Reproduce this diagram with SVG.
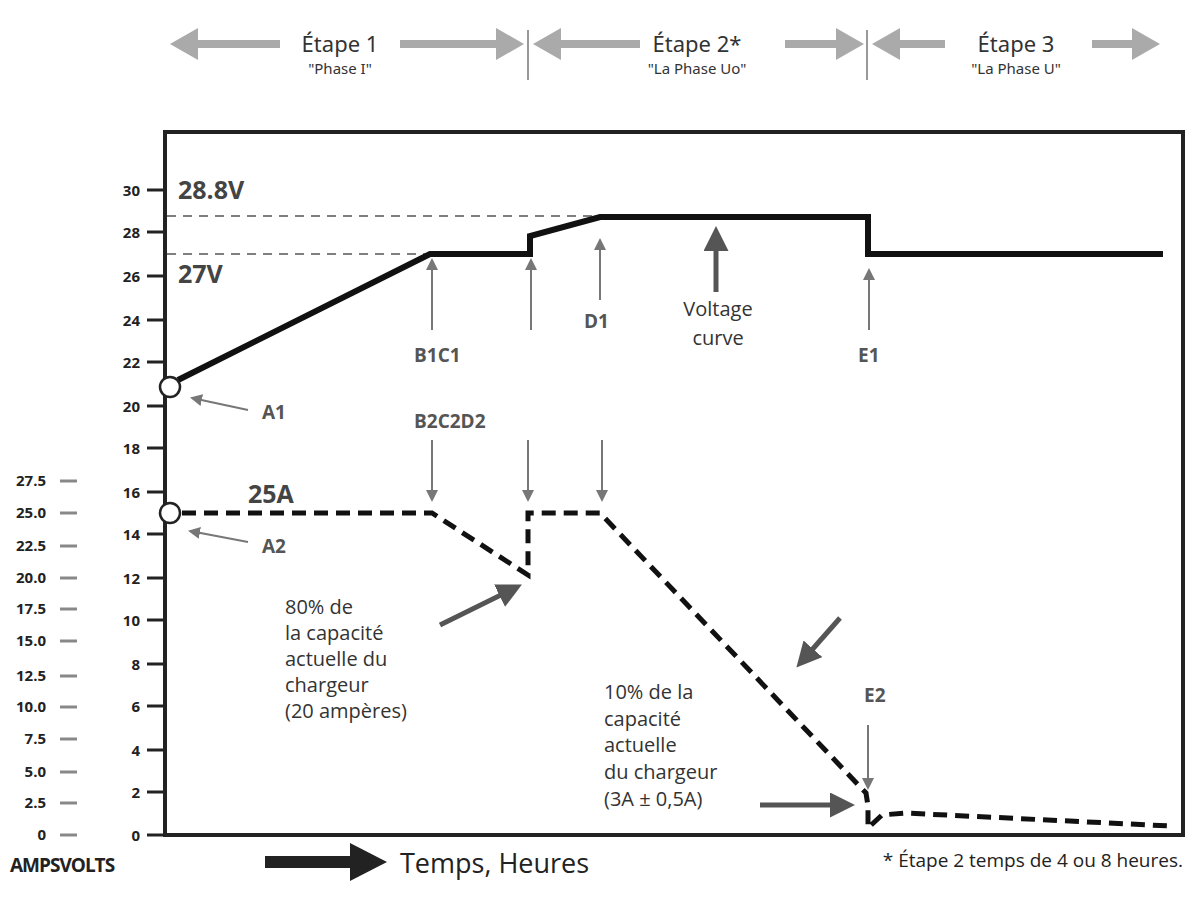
<svg xmlns="http://www.w3.org/2000/svg" width="1198" height="912" viewBox="0 0 1198 912">
<style>
text{font-family:"Open Sans","Noto Sans","DejaVu Sans",sans-serif}
.ax{font-weight:bold;font-size:15px;fill:#222;text-anchor:end}
.tk{stroke:#222;stroke-width:3}
.atk{stroke:#888;stroke-width:3}
.lb{font-weight:bold;font-size:19px;fill:#555}
.big{font-weight:bold;font-size:25px;fill:#444}
.note{font-size:20px;fill:#333}
.ga{stroke:#777;stroke-width:2;fill:none;marker-end:url(#ah)}
.gb{stroke:#555;stroke-width:5;fill:none;marker-end:url(#ahb)}
.st{stroke:#aaa;stroke-width:8;fill:none}
.stt{font-family:"Liberation Sans Narrow","Noto Sans","Open Sans",sans-serif;font-weight:normal;fill:#333;text-anchor:middle}
</style>
<defs>
<marker id="ah" markerWidth="6" markerHeight="6" refX="5" refY="3" orient="auto" markerUnits="strokeWidth"><path d="M0,0L6,3L0,6z" fill="#777"/></marker>
<marker id="ahb" markerWidth="5" markerHeight="5" refX="3" refY="2.5" orient="auto" markerUnits="strokeWidth"><path d="M0,0L5,2.5L0,5z" fill="#555"/></marker>
<marker id="sa" markerWidth="4" markerHeight="4" refX="2" refY="2" orient="auto" markerUnits="strokeWidth"><path d="M0,0L3.5,2L0,4z" fill="#aaa"/></marker>
</defs>
<rect width="1198" height="912" fill="#fff"/>
<g id="stages">
<line x1="528" y1="30" x2="528" y2="80" stroke="#999" stroke-width="2"/>
<line x1="867" y1="30" x2="867" y2="80" stroke="#999" stroke-width="2"/>
<line class="st" x1="280" y1="44" x2="182" y2="44" marker-end="url(#sa)"/>
<line class="st" x1="400" y1="44" x2="512" y2="44" marker-end="url(#sa)"/>
<line class="st" x1="640" y1="44" x2="545" y2="44" marker-end="url(#sa)"/>
<line class="st" x1="785" y1="44" x2="852" y2="44" marker-end="url(#sa)"/>
<line class="st" x1="945" y1="44" x2="884" y2="44" marker-end="url(#sa)"/>
<line class="st" x1="1092" y1="44" x2="1148" y2="44" marker-end="url(#sa)"/>
<text class="stt" x="340" y="52" font-size="22">Étape 1</text>
<text class="stt" x="340" y="74" font-size="15">"Phase I"</text>
<text class="stt" x="697" y="52" font-size="22">Étape 2*</text>
<text class="stt" x="697" y="74" font-size="15">"La Phase Uo"</text>
<text class="stt" x="1016" y="52" font-size="22">Étape 3</text>
<text class="stt" x="1016" y="74" font-size="15">"La Phase U"</text>
</g>
<g id="axes">
<rect x="165" y="132" width="1018" height="703" fill="none" stroke="#222" stroke-width="4"/>
<g class="tk">
<line x1="147" y1="190" x2="165" y2="190"/><line x1="147" y1="232" x2="165" y2="232"/><line x1="147" y1="276" x2="165" y2="276"/><line x1="147" y1="320" x2="165" y2="320"/><line x1="147" y1="362" x2="165" y2="362"/><line x1="147" y1="406" x2="165" y2="406"/><line x1="147" y1="448" x2="165" y2="448"/><line x1="147" y1="492" x2="165" y2="492"/><line x1="147" y1="534" x2="165" y2="534"/><line x1="147" y1="578" x2="165" y2="578"/><line x1="147" y1="620" x2="165" y2="620"/><line x1="147" y1="664" x2="165" y2="664"/><line x1="147" y1="706" x2="165" y2="706"/><line x1="147" y1="750" x2="165" y2="750"/><line x1="147" y1="792" x2="165" y2="792"/><line x1="147" y1="835" x2="165" y2="835"/>
</g>
<text class="ax" x="140" y="196">30</text><text class="ax" x="140" y="238">28</text><text class="ax" x="140" y="282">26</text><text class="ax" x="140" y="326">24</text><text class="ax" x="140" y="368">22</text><text class="ax" x="140" y="412">20</text><text class="ax" x="140" y="454">18</text><text class="ax" x="140" y="498">16</text><text class="ax" x="140" y="540">14</text><text class="ax" x="140" y="584">12</text><text class="ax" x="140" y="626">10</text><text class="ax" x="140" y="670">8</text><text class="ax" x="140" y="712">6</text><text class="ax" x="140" y="756">4</text><text class="ax" x="140" y="798">2</text><text class="ax" x="140" y="841">0</text>
<g class="atk">
<line x1="60" y1="481" x2="77" y2="481"/><line x1="60" y1="513" x2="77" y2="513"/><line x1="60" y1="546" x2="77" y2="546"/><line x1="60" y1="578" x2="77" y2="578"/><line x1="60" y1="609" x2="77" y2="609"/><line x1="60" y1="641" x2="77" y2="641"/><line x1="60" y1="676" x2="77" y2="676"/><line x1="60" y1="707" x2="77" y2="707"/><line x1="60" y1="739" x2="77" y2="739"/><line x1="60" y1="772" x2="77" y2="772"/><line x1="60" y1="803" x2="77" y2="803"/><line x1="60" y1="835" x2="77" y2="835"/>
</g>
<text class="ax" x="46" y="486">27.5</text><text class="ax" x="46" y="518">25.0</text><text class="ax" x="46" y="551">22.5</text><text class="ax" x="46" y="583">20.0</text><text class="ax" x="46" y="614">17.5</text><text class="ax" x="46" y="646">15.0</text><text class="ax" x="46" y="681">12.5</text><text class="ax" x="46" y="712">10.0</text><text class="ax" x="46" y="744">7.5</text><text class="ax" x="46" y="777">5.0</text><text class="ax" x="46" y="808">2.5</text><text class="ax" x="46" y="840">0</text>
<text x="10" y="872" font-weight="bold" font-size="19" fill="#222" letter-spacing="-1">AMPSVOLTS</text>
<line x1="265" y1="862" x2="355" y2="862" stroke="#222" stroke-width="12"/>
<path d="M350,843L387,862L350,881z" fill="#222"/>
<text x="400" y="873" font-size="27" fill="#222">Temps, Heures</text>
<text x="1183" y="867" font-size="19" fill="#222" text-anchor="end">* Étape 2 temps de 4 ou 8 heures.</text>
</g>
<g id="connectors">
<line x1="167" y1="216" x2="600" y2="216" stroke="#555" stroke-dasharray="9,7" stroke-width="1.3"/>
<line x1="167" y1="254" x2="430" y2="254" stroke="#555" stroke-dasharray="9,7" stroke-width="1.3"/>
<polyline points="178,380 430,254 530,254 530,236 600,217 868,217 868,254 1163,254" fill="none" stroke="#111" stroke-width="6"/>
<polyline points="182,513 432,513 528,575 528,513 600,513 866,793 868,806 868,828 882,815 905,813 1170,826" fill="none" stroke="#111" stroke-width="5" stroke-dasharray="14,8"/>
<path class="ga" d="M248,410L192,398"/>
<path class="ga" d="M248,542L190,531"/>
<path class="ga" d="M432,330L432,260"/>
<path class="ga" d="M531,330L531,260"/>
<path class="ga" d="M600,300L600,240"/>
<path class="ga" d="M869,330L869,270"/>
<path class="ga" d="M432,440L432,500"/>
<path class="ga" d="M528,440L528,500"/>
<path class="ga" d="M602,440L602,500"/>
<path class="ga" d="M868,725L868,788"/>
<path class="gb" d="M716,292L716,236"/>
<path class="gb" d="M440,625L513,589"/>
<path class="gb" d="M760,805L845,805"/>
<path class="gb" d="M840,618L803,660"/>
</g>
<g id="markers">
<circle cx="170" cy="387" r="10" fill="#fff" stroke="#222" stroke-width="2.5"/>
<circle cx="170" cy="513" r="10" fill="#fff" stroke="#222" stroke-width="2.5"/>
</g>
<g id="labels">
<text class="big" x="178" y="199">28.8V</text>
<text class="big" x="178" y="283">27V</text>
<text class="big" x="248" y="503">25A</text>
<text class="lb" x="262" y="419">A1</text>
<text class="lb" x="262" y="553">A2</text>
<text class="lb" x="414" y="362">B1C1</text>
<text class="lb" x="584" y="328">D1</text>
<text class="lb" x="858" y="362">E1</text>
<text class="lb" x="414" y="428">B2C2D2</text>
<text class="lb" x="864" y="702">E2</text>
<text class="note" x="718" y="316" text-anchor="middle">Voltage</text>
<text class="note" x="718" y="345" text-anchor="middle">curve</text>
<text class="note" x="285" y="614">80% de</text>
<text class="note" x="285" y="640">la capacité</text>
<text class="note" x="285" y="666">actuelle du</text>
<text class="note" x="285" y="692">chargeur</text>
<text class="note" x="285" y="718">(20 ampères)</text>
<text class="note" x="604" y="699">10% de la</text>
<text class="note" x="604" y="726">capacité</text>
<text class="note" x="604" y="752">actuelle</text>
<text class="note" x="604" y="779">du chargeur</text>
<text class="note" x="604" y="806">(3A ± 0,5A)</text>
</g>
</svg>
